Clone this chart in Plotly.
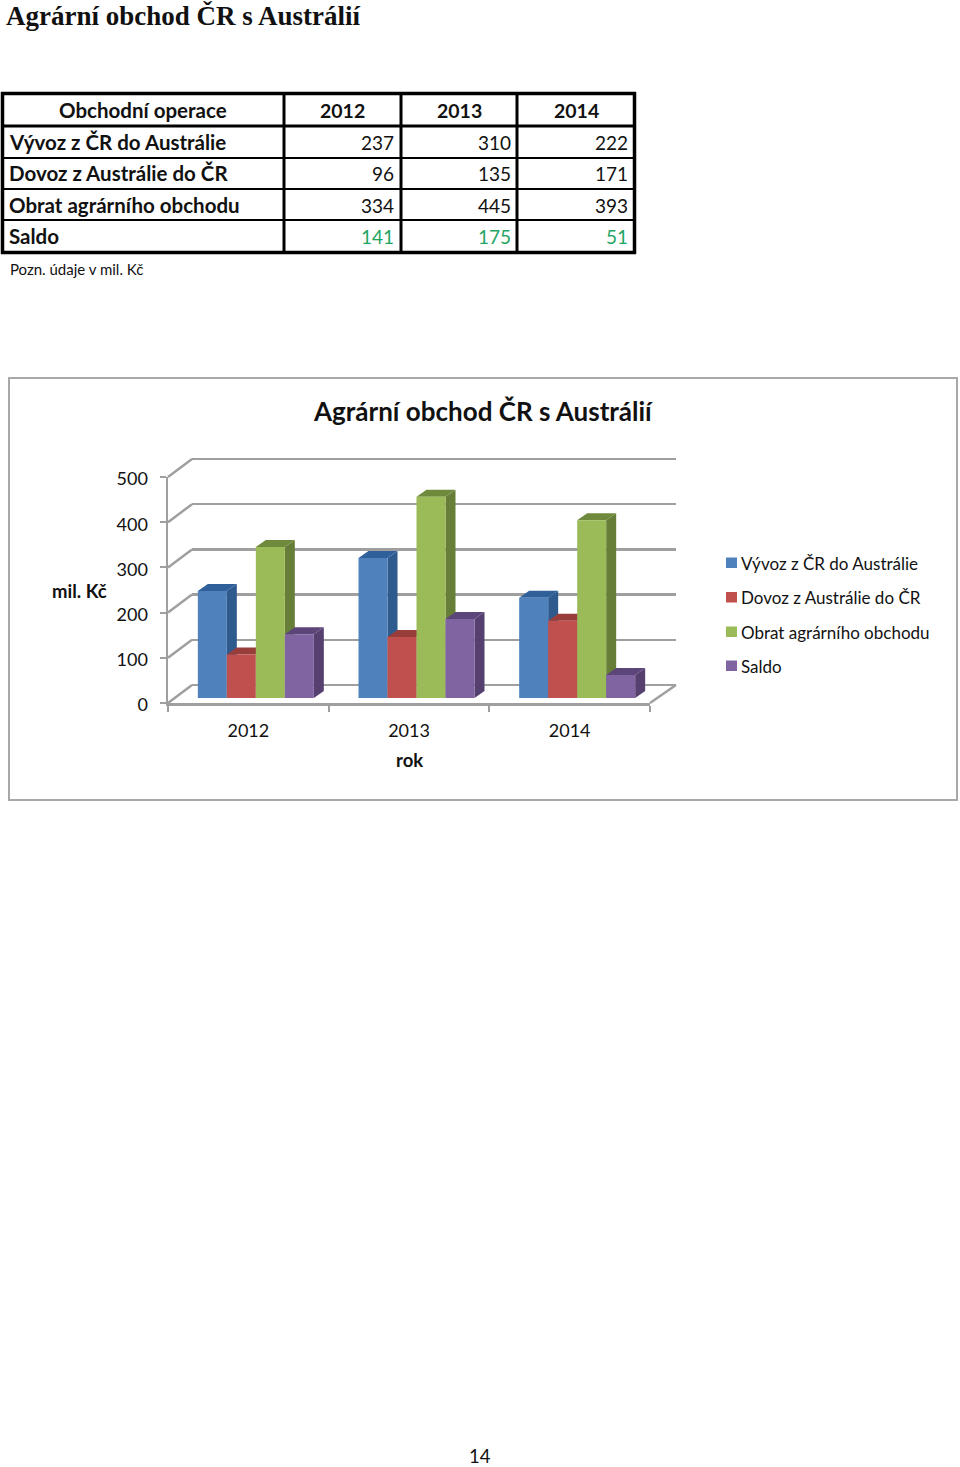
import plotly.graph_objects as go

# ---------- data ----------
years = ["2012", "2013", "2014"]
series_names = ["Vývoz z ČR do Austrálie", "Dovoz z Austrálie do ČR", "Obrat agrárního obchodu", "Saldo"]
vyvoz = [237, 310, 222]
dovoz = [96, 135, 171]
obrat = [334, 445, 393]
saldo = [141, 175, 51]
table_header = ["Obchodní operace", "2012", "2013", "2014"]
y_ticks = [0, 100, 200, 300, 400, 500]

# ---------- style ----------
SANS = "Lato"
SERIF = "Liberation Serif"
TXT = "#111111"
GRID = "#9f9f9f"
GREEN = "#1fa463"
front_col = ["#4f81bd", "#c0504d", "#9bbb59", "#8064a2"]
side_col = ["#2f5a8e", "#8c3836", "#677e39", "#55406f"]
top_col = ["#30609a", "#993d3a", "#6f8a3d", "#5c4679"]
W, H = 960, 1467
all_series = [vyvoz, dovoz, obrat, saldo]


def px(x):
    return x / W


def py(y):
    return 1 - y / H


fig = go.Figure()

# front axes trace (carries the category axis)
fig.add_trace(go.Scatter(x=years, y=[0, 0, 0], mode="none", showlegend=False, hoverinfo="skip",
                         xaxis="x", yaxis="y"))
# back wall trace
fig.add_trace(go.Scatter(x=[0, 1, 2], y=[0, 0, 0], mode="none", showlegend=False, hoverinfo="skip",
                         xaxis="x2", yaxis="y2"))

# depth faces, computed from the values
bar_w = 29 / 160.67
dx = 10 / 160.67
dy = 7 / 0.452
for s, vals in enumerate(all_series):
    for c, v in enumerate(vals):
        left = c + (s - 2) * bar_w
        right = left + bar_w
        fig.add_trace(go.Scatter(
            x=[right, right + dx, right + dx, right, right],
            y=[0, dy, v + dy, v, 0], fill="toself", fillcolor=side_col[s], mode="none",
            showlegend=False, hoverinfo="skip", xaxis="x3", yaxis="y3"))
        fig.add_trace(go.Scatter(
            x=[left, left + dx, right + dx, right, left],
            y=[v, v + dy, v + dy, v, v], fill="toself", fillcolor=top_col[s], mode="none",
            showlegend=False, hoverinfo="skip", xaxis="x3", yaxis="y3"))

# front faces
for s, vals in enumerate(all_series):
    fig.add_trace(go.Bar(x=[0, 1, 2], y=vals, name=series_names[s], marker=dict(color=front_col[s], line_width=0),
                         showlegend=False, xaxis="x4", yaxis="y4"))

hidden = dict(visible=False, fixedrange=True, automargin=False)
yaxis_range = [0, 500]
fig.update_layout(
    width=W, height=H, margin=dict(l=0, r=0, t=0, b=0), autosize=False,
    paper_bgcolor="white", plot_bgcolor="rgba(0,0,0,0)", showlegend=False,
    barmode="group", bargap=1 - 4 * bar_w, bargroupgap=0,
    font=dict(family=SANS, color=TXT),
    xaxis=dict(domain=[px(168), px(650)], type="category", categoryorder="array", categoryarray=years,
               range=[-0.5, 2.5], tickson="boundaries", ticks="outside", ticklen=6, tickwidth=2, tickcolor=GRID,
               showline=True, linecolor=GRID, linewidth=2.5, showgrid=False, zeroline=False, anchor="y",
               automargin=False, tickfont=dict(family=SANS, size=18, color=TXT), ticklabelstandoff=10, fixedrange=True),
    yaxis=dict(domain=[py(703), py(477)], range=yaxis_range, tickvals=y_ticks, ticks="outside", ticklen=6, tickwidth=2,
               tickcolor=GRID, showline=True, linecolor=GRID, linewidth=2.5, showgrid=False, zeroline=False,
               anchor="x", automargin=False, tickfont=dict(family=SANS, size=18, color=TXT), ticklabelstandoff=8,
               ticklabelshift=2, fixedrange=True),
    xaxis2=dict(domain=[px(192), px(676)], range=[-0.5, 2.5], anchor="y2", **hidden),
    yaxis2=dict(domain=[py(685 + 2.26), py(459 - 2.26)], range=[-5, 505], anchor="x2", tickvals=y_ticks, showgrid=True,
                gridcolor=GRID, gridwidth=2.5, zeroline=False, showline=False, ticks="", showticklabels=False,
                automargin=False, fixedrange=True),
    xaxis3=dict(domain=[px(175.5), px(657.5)], range=[-0.5, 2.5], anchor="y3", **hidden),
    yaxis3=dict(domain=[py(698), py(472)], range=yaxis_range, anchor="x3", **hidden),
    xaxis4=dict(domain=[px(175.5), px(657.5)], range=[-0.5, 2.5], anchor="y4", **hidden),
    yaxis4=dict(domain=[py(698), py(472)], range=yaxis_range, anchor="x4", **hidden),
)

# frame and perspective lines
shapes = [dict(type="rect", xref="paper", yref="paper", x0=px(9), x1=px(957), y0=py(378), y1=py(800),
               line=dict(color="#a8a8a8", width=2), fillcolor="white", layer="below")]
for t in y_ticks:
    y0 = 703 - t * 0.452
    shapes.append(dict(type="line", xref="paper", yref="paper", x0=px(168), x1=px(192),
                       y0=py(y0), y1=py(y0 - 18), line=dict(color=GRID, width=2.5), layer="below"))
shapes.append(dict(type="line", xref="paper", yref="paper", x0=px(650), x1=px(676),
                   y0=py(703), y1=py(685), line=dict(color=GRID, width=2.5), layer="below"))


def hline(y, w):
    shapes.append(dict(type="line", xref="paper", yref="paper", x0=px(1), x1=px(636), y0=py(y), y1=py(y),
                       line=dict(color="black", width=w)))


def vline(x, w):
    shapes.append(dict(type="line", xref="paper", yref="paper", x0=px(x), x1=px(x), y0=py(92), y1=py(254),
                       line=dict(color="black", width=w)))


for y, w in zip([93.5, 126, 158, 189, 220, 252.5], [3.5, 3, 2, 2, 2, 3.5]):
    hline(y, w)
for x, w in zip([2.5, 284, 401, 517, 634.5], [3.5, 3, 3, 3, 3.5]):
    vline(x, w)

annotations = []


def note(text, x, y, size, family=SANS, xanchor="left", color=TXT):
    annotations.append(dict(text=text, xref="paper", yref="paper", x=px(x), y=py(y), showarrow=False,
                            xanchor=xanchor, yanchor="middle", font=dict(family=family, size=size, color=color)))


# table text
for i, (t, x) in enumerate(zip(table_header, [143, 342, 459, 576])):
    note("<b>%s</b>" % t, x, 110, 20.5 if i == 0 else 19.5, xanchor="center")
for r, (name, vals, ry) in enumerate(zip(series_names, all_series, [142, 173, 205, 236])):
    note("<b>%s</b>" % name, 7, ry, 20.5)
    for v, x in zip(vals, [396, 513, 630]):
        note(str(v), x, ry, 19, xanchor="right", color=GREEN if r == 3 else TXT)

note("<b>Agrární obchod ČR s Austrálií</b>", 4, 16, 27, SERIF)
note("Pozn. údaje v mil. Kč", 8, 269, 15)
note("<b>Agrární obchod ČR s Austrálií</b>", 483, 411, 26, xanchor="center")
note("<b>mil. Kč</b>", 50, 591, 18.5)
note("<b>rok</b>", 409, 760, 18.5, xanchor="center")
note("14", 480, 1455.5, 18.5, xanchor="center")

legend_y = [563, 597.5, 632, 666]
for name, color, ly in zip(series_names, front_col, legend_y):
    shapes.append(dict(type="rect", xref="paper", yref="paper", x0=px(726), x1=px(737), y0=py(ly + 5), y1=py(ly - 5.5),
                       fillcolor=color, line_width=0))
    note(name, 739, ly, 17)

fig.update_layout(shapes=shapes, annotations=annotations)

fig.write_html("out.html", config=dict(displayModeBar=False, staticPlot=True),
               post_script="document.body.style.margin='0';document.documentElement.style.overflow='hidden';")
